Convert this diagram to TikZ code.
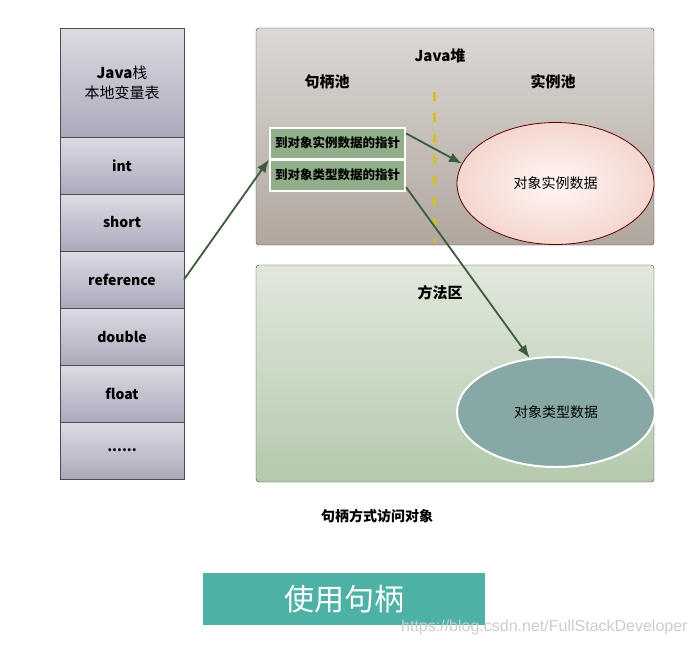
\documentclass[tikz,border=0pt]{standalone}
\usepackage{fontspec}
\setmainfont{Noto Sans CJK SC}
\newfontfamily\markfont{Liberation Sans}
\usepackage{xcolor}
\usetikzlibrary{arrows.meta,positioning,shapes.geometric}

\definecolor{stacktop}{HTML}{DCDCE4}
\definecolor{stackbot}{HTML}{A9A9BB}
\definecolor{heaptop}{HTML}{DCD8D4}
\definecolor{heapbot}{HTML}{B0A69E}
\definecolor{methtop}{HTML}{E0E8DC}
\definecolor{methbot}{HTML}{B4C9AD}
\definecolor{ptrgreen}{HTML}{8FAE89}
\definecolor{arrowgreen}{HTML}{3D5C3A}
\definecolor{typeteal}{HTML}{88A8A6}
\definecolor{titleteal}{HTML}{4DB2A5}
\definecolor{dashyellow}{HTML}{D4C020}
\definecolor{instin}{HTML}{FFF6F4}
\definecolor{instout}{HTML}{F4D6CE}

\begin{document}
\begin{tikzpicture}[
  x=1pt,y=-1pt,
  cell/.style={draw=black!70,top color=stacktop,bottom color=stackbot,minimum width=124pt,minimum height=57pt,outer sep=0pt,inner sep=0pt,align=center,font=\fontsize{14pt}{16pt}\selectfont\bfseries},
  area/.style={draw=black!75,rounded corners=3pt,minimum width=398pt,minimum height=217pt,outer sep=0pt},
  label/.style={font=\fontsize{15pt}{17pt}\selectfont\bfseries},
  ptrbox/.style={draw=white,line width=2pt,fill=ptrgreen,minimum width=135pt,minimum height=31pt,inner sep=0pt,font=\fontsize{12.5pt}{14pt}\selectfont\bfseries},
  ptr/.style={-{Latex[length=13pt,width=10pt]},draw=arrowgreen,fill=arrowgreen,line width=1.8pt},
  node distance=0pt
]
\useasboundingbox (0,0) rectangle (698,645);

% Java stack
\node[cell,minimum height=109pt,font=\fontsize{15pt}{20pt}\selectfont] (stackhead) at (122,82.5) {\textbf{Java}栈\\本地变量表};
\node[cell,below=of stackhead] (int) {int};
\node[cell,below=of int] (short) {short};
\node[cell,below=of short] (reference) {reference};
\node[cell,below=of reference] (double) {double};
\node[cell,below=of double] (float) {float};
\node[cell,below=of float] (more) {......};

% heap and method area
\node[area,top color=heaptop,bottom color=heapbot] (heap) at (455,136.5) {};
\node[area,top color=methtop,bottom color=methbot] (method) at (455,373.5) {};
\node[label] (heaptitle) at (440,56) {Java堆};
\node[label] (handlepool) at (327,82) {句柄池};
\node[label] (instpool) at (553,82) {实例池};
\node[label] (methtitle) at (440,293) {方法区};
\draw[dashyellow,line width=3pt,dash pattern=on 9pt off 12pt] (434,92) -- (434,242);

\node[ptrbox] (ptrinst) at (337.5,143) {到对象实例数据的指针};
\node[ptrbox] (ptrtype) at (337.5,175) {到对象类型数据的指针};

\node[ellipse,draw=red!35!black,line width=0.8pt,inner color=instin,outer color=instout,minimum width=197pt,minimum height=122pt,font=\fontsize{14pt}{16pt}\selectfont] (instdata) at (555.5,183.5) {对象实例数据};
\node[ellipse,draw=white,line width=2pt,fill=typeteal,minimum width=198pt,minimum height=110pt,font=\fontsize{14pt}{16pt}\selectfont] (typedata) at (556,412) {对象类型数据};

\draw[ptr] (reference.east) -- (ptrinst.south west);
\draw[ptr] (ptrinst.8) -- (instdata.168);
\draw[ptr] (ptrtype.-10) -- (typedata.116);

% captions
\node[font=\fontsize{14pt}{16pt}\selectfont\bfseries] (caption) at (377,516) {句柄方式访问对象};
\node[fill=titleteal,minimum width=282pt,minimum height=52pt,text=white,font=\fontsize{30pt}{32pt}\selectfont] (banner) at (344,599) {使用句柄};
\node[text=black!20,font=\markfont\fontsize{16pt}{18pt}\selectfont,anchor=west,inner sep=0pt] (watermark) at (401,627) {https://blog.csdn.net/FullStackDeveloper};
\end{tikzpicture}
\end{document}
